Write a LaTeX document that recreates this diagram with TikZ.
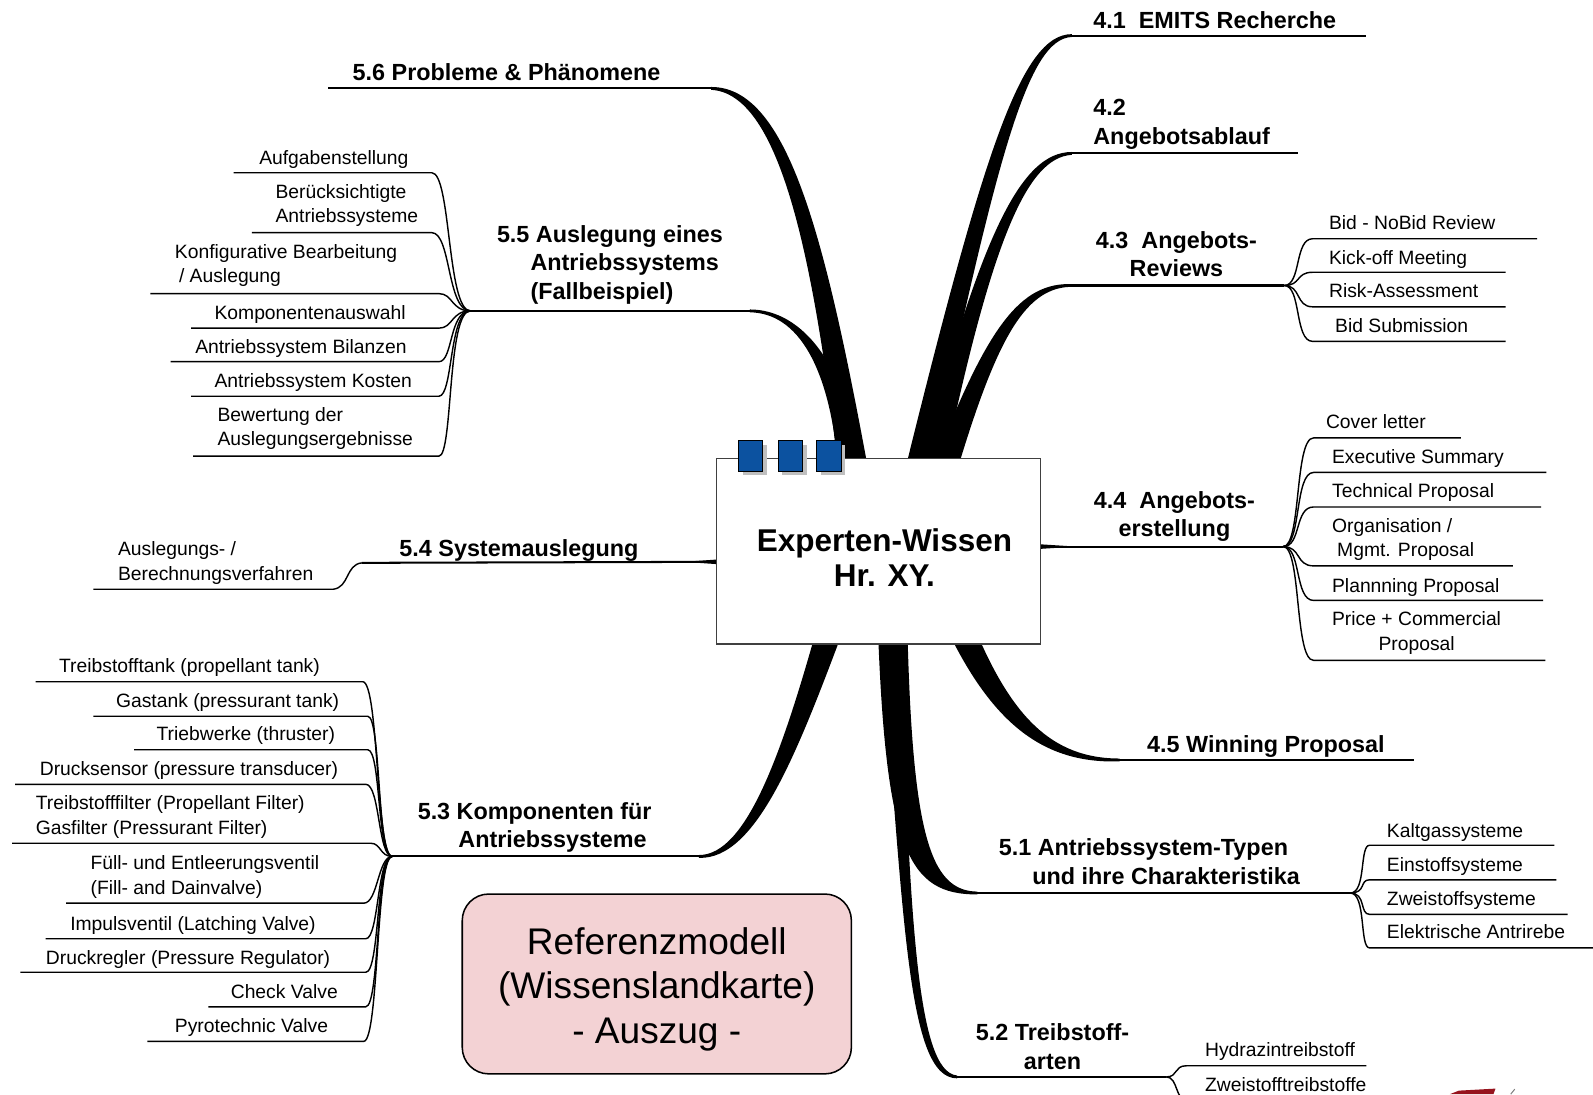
\documentclass[tikz,border=0pt]{standalone}
\usepackage{fontspec}
\setmainfont{Liberation Sans}
\usetikzlibrary{positioning,shadows}

\definecolor{tabblue}{RGB}{12,82,160}
\definecolor{notepink}{RGB}{243,210,212}
\definecolor{notered}{RGB}{150,20,30}

\begin{document}
\begin{tikzpicture}[
        x=1pt, y=-1pt,
        hub/.style={rectangle, draw=black!75, line width=1.3pt, fill=white, minimum width=319pt, minimum height=183pt},
        title/.style={inner sep=0pt, align=center, font=\fontsize{31}{35}\selectfont\bfseries},
        tab/.style={rectangle, draw=black, line width=1pt, fill=tabblue, minimum width=24pt, minimum height=30pt, inner sep=0pt, drop shadow={shadow xshift=4pt, shadow yshift=-4pt, fill=black!25, opacity=1}},
        note/.style={rectangle, rounded corners=26pt, draw=black, line width=1.5pt, fill=notepink, minimum width=383pt, minimum height=177pt, align=center, font=\fontsize{36.5}{44}\selectfont},
        topic/.style={inner sep=0pt, font=\fontsize{23}{28}\selectfont\bfseries},
        leaf/.style={inner sep=0pt, font=\fontsize{19}{24}\selectfont},
        bough/.style={fill=black},
        limb/.style={line width=2pt},
        twig/.style={line width=1.4pt}
    ]
        \useasboundingbox (0,0) rectangle (1568,1077);
        \clip (0,0) rectangle (1568,1077);

        % Verzweigungspunkte
        \coordinate (b43) at (1264,281);
        \coordinate (b44) at (1263,538);
        \coordinate (b51) at (1329,879);
        \coordinate (b52) at (1148,1060);
        \coordinate (b53) at (386,843);
        \coordinate (b54) at (356,554);
        \coordinate (b55) at (463,306);

        % Hauptaeste oben links (5.6, 5.5)
        \fill[bough] (856,470) .. controls (812,230) and (775,85.6) .. (700,85.6) -- (700,88.4) .. controls (765,92) and (800,240) .. (826,470) -- cycle;
        \draw[limb] (323,87) -- (702,87);
        \fill[bough] (848,470) .. controls (836,360) and (790,304.6) .. (738,304.6) -- (738,307.4) .. controls (785,308) and (818,360) .. (826,470) -- cycle;
        \draw[limb] (b55) -- (740,306);

        % Hauptaeste oben rechts (4.1, 4.2, 4.3)
        \fill[bough] (889,470) .. controls (968,150) and (1005,33.6) .. (1055,33.6) -- (1055,36.4) .. controls (1012,38) and (982,150) .. (914,470) -- cycle;
        \draw[limb] (1053,35) -- (1345,35);
        \fill[bough] (903,470) .. controls (965,230) and (1005,149.6) .. (1055,149.6) -- (1055,152.4) .. controls (1010,155) and (975,240) .. (927,470) -- cycle;
        \draw[limb] (1053,151) -- (1278,151);
        \fill[bough] (914,470) .. controls (968,330) and (1000,279.6) .. (1052,279.6) -- (1052,282.4) .. controls (1008,285) and (980,335) .. (940,470) -- cycle;
        \draw[limb] (1050,281) -- (b43);

        % Seitenaeste (4.4, 5.4)
        \fill[bough] (1020,535.5) -- (1050,537.4) -- (1050,538.6) -- (1020,540.5) -- cycle;
        \draw[limb] (1024,538) -- (b44);
        \fill[bough] (709,550.5) -- (680,552.5) -- (680,553.5) -- (709,555.5) -- cycle;
        \draw[limb] (b54) -- (705,553);

        % Hauptaeste unten (4.5, 5.1, 5.2, 5.3)
        \fill[bough] (958,615) .. controls (995,705) and (1035,746.6) .. (1102,746.6) -- (1102,749.4) .. controls (1025,752) and (975,710) .. (930,615) -- cycle;
        \draw[limb] (1100,748) -- (1392,748);
        \fill[bough] (864,615) .. controls (872,840) and (895,880.4) .. (962,880.4) -- (962,877.6) .. controls (915,877) and (898,820) .. (893,615) -- cycle;
        \draw[limb] (960,879) -- (b51);
        \fill[bough] (866,615) .. controls (890,900) and (892,1061.4) .. (942,1061.4) -- (942,1058.6) .. controls (902,1055) and (895,900) .. (886,615) -- cycle;
        \draw[limb] (940,1060) -- (b52);
        \fill[bough] (805,615) .. controls (770,740) and (735,841.6) .. (688,841.6) -- (688,844.4) .. controls (745,846) and (785,740) .. (832,615) -- cycle;
        \draw[limb] (b53) -- (690,843);

        % Mitte
        \node[hub] (hub) at (864.5,542.5) {};
        \node[title, anchor=north] (titel) at (870.5,520) {Experten-Wissen\\Hr. XY.};
        \node[tab] (tab1) at (739,449) {};
        \node[tab, right=14pt of tab1] (tab2) {};
        \node[tab, right=13pt of tab2] (tab3) {};

        % Themen
        \node[topic, anchor=base west] (t41) at (1076,28) {4.1~~EMITS Recherche};
        \node[topic, anchor=north west, align=left] (t42) at (1076,97.5) {4.2\\Angebotsablauf};
        \node[topic, anchor=north, align=center] (t43) at (1158,227.5) {4.3~~Angebots-\\Reviews};
        \node[topic, anchor=north, align=center] (t44) at (1156,483.5) {4.4~~Angebots-\\erstellung};
        \node[topic, anchor=base west] (t45) at (1129,741) {4.5 Winning Proposal};
        \node[topic, anchor=north west, align=left] (t51) at (983,825.5) {5.1 Antriebssystem-Typen\\\hspace*{33pt}und ihre Charakteristika};
        \node[topic, anchor=north, align=center] (t52) at (1036,1007.5) {5.2 Treibstoff-\\arten};
        \node[topic, anchor=north west, align=left] (t53) at (411,789.5) {5.3 Komponenten für\\\hspace*{40pt}Antriebssysteme};
        \node[topic, anchor=base west] (t54) at (393,548) {5.4 Systemauslegung};
        \node[topic, anchor=north west, align=left] (t55) at (489,221.5) {5.5 Auslegung eines\\\hspace*{33pt}Antriebssystems\\\hspace*{33pt}(Fallbeispiel)};
        \node[topic, anchor=base west] (t56) at (347,79) {5.6 Probleme \& Phänomene};

        % 4.3 Angebots-Reviews
        \node[leaf, anchor=base west] (bid) at (1308,226) {Bid - NoBid Review};
        \node[leaf, anchor=base west] (kick) at (1308,260) {Kick-off Meeting};
        \node[leaf, anchor=base west] (risk) at (1308,293) {Risk-Assessment};
        \node[leaf, anchor=base west] (submit) at (1314,327) {Bid Submission};
        \draw[twig] (b43) .. controls (1281,281) and (1274,235) .. (1292,235) -- (1513,235);
        \draw[twig] (b43) .. controls (1281,281) and (1275,268) .. (1292,268) -- (1482,268);
        \draw[twig] (b43) .. controls (1281,281) and (1275,302) .. (1292,302) -- (1482,302);
        \draw[twig] (b43) .. controls (1281,281) and (1274,336) .. (1292,336) -- (1482,336);

        % 4.4 Angebotserstellung
        \node[leaf, anchor=base west] (cover) at (1305,422) {Cover letter};
        \node[leaf, anchor=base west] (exec) at (1311,456) {Executive Summary};
        \node[leaf, anchor=base west] (tech) at (1311,490) {Technical Proposal};
        \node[leaf, anchor=north west, align=left] (orga) at (1311,510) {Organisation /\\\hspace*{5pt}Mgmt. Proposal};
        \node[leaf, anchor=base west] (plan) at (1311,583) {Plannning Proposal};
        \node[leaf, anchor=north west, align=center] (price) at (1311,602) {Price + Commercial\\Proposal};
        \draw[twig] (b44) .. controls (1281,538) and (1274,431) .. (1293,431) -- (1438,431);
        \draw[twig] (b44) .. controls (1281,538) and (1274,465) .. (1293,465) -- (1522,465);
        \draw[twig] (b44) .. controls (1281,538) and (1274,499) .. (1293,499) -- (1517,499);
        \draw[twig] (b44) .. controls (1281,538) and (1275,557) .. (1293,557) -- (1489,557);
        \draw[twig] (b44) .. controls (1281,538) and (1274,591) .. (1293,591) -- (1519,591);
        \draw[twig] (b44) .. controls (1281,538) and (1274,650) .. (1293,650) -- (1521,650);

        % 5.1 Antriebssystem-Typen
        \node[leaf, anchor=base west] (kalt) at (1365,824) {Kaltgassysteme};
        \node[leaf, anchor=base west] (ein) at (1365,858) {Einstoffsysteme};
        \node[leaf, anchor=base west] (zwei) at (1365,891) {Zweistoffsysteme};
        \node[leaf, anchor=base west] (elek) at (1365,924) {Elektrische Antrirebe};
        \draw[twig] (b51) .. controls (1345,879) and (1338,832) .. (1348,832) -- (1530,832);
        \draw[twig] (b51) .. controls (1345,879) and (1338,866) .. (1348,866) -- (1532,866);
        \draw[twig] (b51) .. controls (1345,879) and (1338,900) .. (1348,900) -- (1543,900);
        \draw[twig] (b51) .. controls (1345,879) and (1338,933) .. (1348,933) -- (1568,933);

        % 5.2 Treibstoffarten
        \node[leaf, anchor=base west] (hydra) at (1186,1040) {Hydrazintreibstoff};
        \node[leaf, anchor=base west] (biprop) at (1186,1074) {Zweistofftreibstoffe};
        \draw[twig] (b52) .. controls (1160,1060) and (1155,1049) .. (1168,1049) -- (1345,1049);
        \draw[twig] (b52) .. controls (1160,1060) and (1156,1084) .. (1170,1084) -- (1345,1084);

        % 5.5 Auslegung eines Antriebssystems
        \node[leaf, anchor=base west] (aufg) at (255,162) {Aufgabenstellung};
        \node[leaf, anchor=north west, align=left] (berueck) at (271,181) {Berücksichtigte\\Antriebssysteme};
        \node[leaf, anchor=north west, align=left] (konfig) at (172,240) {Konfigurative Bearbeitung\\\hspace*{4pt}/ Auslegung};
        \node[leaf, anchor=base west] (kompo) at (211,314) {Komponentenauswahl};
        \node[leaf, anchor=base west] (bilanz) at (192,348) {Antriebssystem Bilanzen};
        \node[leaf, anchor=base west] (kosten) at (211,381) {Antriebssystem Kosten};
        \node[leaf, anchor=north west, align=left] (bewert) at (214,401) {Bewertung der\\Auslegungsergebnisse};
        \draw[twig] (230,170) -- (425,170) .. controls (444,170) and (440,306) .. (b55);
        \draw[twig] (248,229) -- (425,229) .. controls (444,229) and (440,306) .. (b55);
        \draw[twig] (148,289) -- (432,289) .. controls (446,289) and (444,306) .. (b55);
        \draw[twig] (188,323) -- (432,323) .. controls (446,323) and (444,306) .. (b55);
        \draw[twig] (168,356) -- (432,356) .. controls (446,356) and (442,306) .. (b55);
        \draw[twig] (188,390) -- (432,390) .. controls (446,390) and (442,306) .. (b55);
        \draw[twig] (190,449) -- (432,449) .. controls (446,449) and (440,306) .. (b55);

        % 5.4 Systemauslegung
        \node[leaf, anchor=north west, align=left] (ausl) at (116,533) {Auslegungs- /\\Berechnungsverfahren};
        \draw[twig] (b54) .. controls (340,556) and (344,578) .. (328,580) -- (92,580);

        % 5.3 Komponenten fuer Antriebssysteme
        \node[leaf, anchor=base west] (tank) at (58,662) {Treibstofftank (propellant tank)};
        \node[leaf, anchor=base west] (gastank) at (114,696) {Gastank (pressurant tank)};
        \node[leaf, anchor=base west] (triebw) at (154,729) {Triebwerke (thruster)};
        \node[leaf, anchor=base west] (druck) at (39,763) {Drucksensor (pressure transducer)};
        \node[leaf, anchor=north west, align=left] (filter) at (35,783) {Treibstofffilter (Propellant Filter)\\Gasfilter (Pressurant Filter)};
        \node[leaf, anchor=north west, align=left] (fuell) at (89,842) {Füll- und Entleerungsventil\\(Fill- and Dainvalve)};
        \node[leaf, anchor=base west] (impuls) at (69,916) {Impulsventil (Latching Valve)};
        \node[leaf, anchor=base west] (regler) at (45,949) {Druckregler (Pressure Regulator)};
        \node[leaf, anchor=base west] (check) at (227,983) {Check Valve};
        \node[leaf, anchor=base west] (pyro) at (172,1016) {Pyrotechnic Valve};
        \draw[twig] (35,671) -- (357,671) .. controls (373,671) and (370,843) .. (b53);
        \draw[twig] (92,705) -- (362,705) .. controls (375,705) and (371,843) .. (b53);
        \draw[twig] (132,738) -- (362,738) .. controls (375,738) and (371,843) .. (b53);
        \draw[twig] (15,772) -- (360,772) .. controls (374,772) and (372,843) .. (b53);
        \draw[twig] (12,830) -- (365,830) .. controls (375,830) and (374,843) .. (b53);
        \draw[twig] (65,889) -- (358,889) .. controls (372,889) and (372,843) .. (b53);
        \draw[twig] (45,924) -- (360,924) .. controls (373,924) and (371,843) .. (b53);
        \draw[twig] (20,957) -- (360,957) .. controls (374,957) and (370,843) .. (b53);
        \draw[twig] (205,991) -- (360,991) .. controls (374,991) and (370,843) .. (b53);
        \draw[twig] (145,1025) -- (358,1025) .. controls (373,1025) and (370,843) .. (b53);

        % Referenzmodell
        \node[note] (note) at (646.5,968.5) {\rule{0pt}{37pt}Referenzmodell\\(Wissenslandkarte)\\- Auszug -};

        % Logo-Rest unten rechts
        \fill[notered] (1427,1077) -- (1436,1073.5) -- (1472,1071.5) -- (1470,1077) -- cycle;
        \draw[black!50, line width=1pt] (1487,1077) -- (1491,1072);

    \end{tikzpicture}
\end{document}
